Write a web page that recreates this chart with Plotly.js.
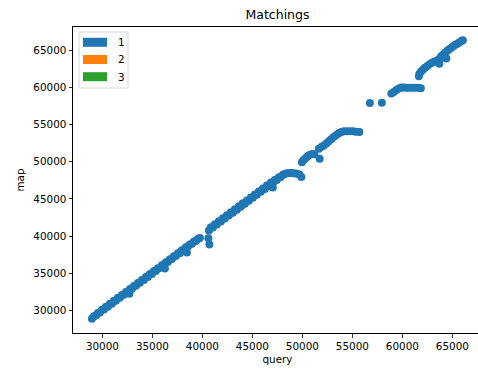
<!DOCTYPE html>
<html>
<head>
<meta charset="utf-8">
<script src="https://cdn.plot.ly/plotly-3.0.1.min.js"></script>
<style>
html, body { margin: 0; padding: 0; overflow: hidden; background: #fff; }
#chart { width: 484px; height: 374px; }
</style>
</head>
<body>
<div id="chart"></div>
<script>
// ---- data ----
const query = [
  28950, 29150, 29350, 29550, 29750, 29950, 30150, 30350, 30550, 30750,
  30950, 31150, 31350, 31550, 31750, 31950, 32150, 32350, 32550, 32750,
  32950, 33150, 33350, 33550, 33750, 33950, 34150, 34350, 34550, 34750,
  34950, 35150, 35350, 35550, 35750, 35950, 36150, 36350, 36550, 36750,
  36950, 37150, 37350, 37550, 37750, 37950, 38150, 38350, 38550, 38750,
  38950, 39150, 39350, 39550, 39750,
  32700, 36250, 38450,
  40600, 40700,
  40650, 40850, 41050, 41250, 41450, 41650, 41850, 42050, 42250, 42450,
  42650, 42850, 43050, 43250, 43450, 43650, 43850, 44050, 44250, 44450,
  44650, 44850, 45050, 45250, 45450, 45650, 45850, 46050, 46250, 46450,
  46650, 46850, 47050, 47250, 47450, 47650, 47850, 48050, 48250, 48450,
  47050,
  48700, 48950, 49200, 49450, 49700, 49900,
  49950, 50100, 50300, 50500, 50700, 50950, 51200, 51730,
  51650, 51900, 52150, 52400, 52650, 52900, 53150, 53400, 53650, 53900,
  54150, 54450, 54750, 55050, 55350, 55700,
  56750, 57950,
  58900, 59150, 59400, 59650, 59900, 60150, 60400, 60700, 61000, 61300,
  61600, 61850,
  61650, 61700, 61850, 62050, 62250, 62500, 62750, 63000, 63250, 63500,
  63750, 63900, 64100, 64300, 64500, 64700, 64900, 65100, 65300, 65500,
  65700, 65900, 66050, 64400, 63700
];
const map = [
  28880, 29200, 29300, 29650, 29700, 30080, 30100, 30480, 30500, 30880,
  30900, 31280, 31300, 31680, 31700, 32080, 32100, 32480, 32500, 32880,
  32900, 33280, 33300, 33680, 33700, 34080, 34100, 34480, 34500, 34880,
  34900, 35280, 35300, 35680, 35700, 36080, 36100, 36480, 36500, 36880,
  36900, 37280, 37300, 37680, 37700, 38080, 38150, 38500, 38600, 38850,
  38950, 39250, 39350, 39600, 39750,
  32250, 35620, 37800,
  39700, 38850,
  40750, 41200, 41150, 41600, 41550, 42000, 41950, 42400, 42350, 42800,
  42750, 43200, 43150, 43600, 43550, 44000, 43950, 44400, 44350, 44800,
  44750, 45200, 45150, 45600, 45550, 46000, 45950, 46400, 46350, 46800,
  46750, 47200, 47150, 47550, 47550, 47900, 47950, 48250, 48350, 48450,
  46550,
  48500, 48500, 48450, 48400, 48300, 47950,
  49950, 50200, 50450, 50700, 50900, 51050, 51000, 50420,
  51750, 52000, 52200, 52450, 52750, 53050, 53350, 53600, 53850, 54000,
  54100, 54100, 54100, 54100, 54050, 54000,
  57900, 57950,
  59200, 59400, 59650, 59850, 60000, 60000, 59950, 59950, 59950, 59950,
  59950, 59900,
  61500, 61800, 62100, 62400, 62650, 62900, 63150, 63350, 63500, 63650,
  63900, 64200, 64450, 64700, 64950, 65150, 65350, 65550, 65750, 65900,
  66050, 66250, 66350, 63900, 63200
];
const legendLabels = ["1", "2", "3"];
const legendColors = ["#1f77b4", "#ff7f0e", "#2ca02c"];
const tickValues = [30000, 35000, 40000, 45000, 50000, 55000, 60000, 65000];

// ---- layout geometry (pixels) ----
const W = 484, H = 374;
const M = { l: 73, r: 2, t: 27, b: 41 };
const PW = W - M.l - M.r, PH = H - M.t - M.b;
const px = x => (x - M.l) / PW;          // pixel -> paper x
const py = y => 1 - (y - M.t) / PH;      // pixel -> paper y

const font = "DejaVu Sans, sans-serif";
const shapes = [];
const annotations = [];

// legend frame
shapes.push({
  type: "rect", xref: "paper", yref: "paper",
  x0: px(79), x1: px(128), y0: py(88), y1: py(32),
  line: { color: "#d6d6d6", width: 1 }, fillcolor: "rgba(255,255,255,0.8)"
});
const rowY = [42.3, 59.5, 76.7];
legendLabels.forEach((lab, i) => {
  shapes.push({
    type: "rect", xref: "paper", yref: "paper",
    x0: px(83), x1: px(107), y0: py(rowY[i] + 4.5), y1: py(rowY[i] - 4.5),
    line: { width: 0 }, fillcolor: legendColors[i]
  });
  annotations.push({
    xref: "paper", yref: "paper", x: px(115.5), y: py(rowY[i]),
    xanchor: "left", yanchor: "middle", showarrow: false,
    text: lab, font: { family: font, size: 10.4, color: "#000" }
  });
});

const trace = {
  type: "scatter", mode: "markers",
  x: query, y: map, name: "1", showlegend: false,
  marker: { color: "#1f77b4", size: 8, line: { width: 0 } },
  hoverinfo: "skip"
};

const axisCommon = {
  showgrid: false, zeroline: false, showline: true, mirror: true,
  linecolor: "#000", linewidth: 1,
  ticks: "outside", ticklen: 3.5, tickwidth: 0.8, tickcolor: "#000",
  tickvals: tickValues, ticktext: tickValues.map(String),
  tickfont: { family: font, size: 10.4, color: "#000" },
  automargin: false
};

const layout = {
  width: W, height: H, margin: M,
  paper_bgcolor: "#fff", plot_bgcolor: "#fff",
  showlegend: false,
  title: {
    text: "Matchings", x: px((M.l + 482) / 2), xref: "paper", xanchor: "center",
    y: 1 - 15 / H, yref: "container", yanchor: "middle",
    font: { family: font, size: 12.5, color: "#000" }
  },
  xaxis: Object.assign({}, axisCommon, {
    range: [27057, 67967],
    title: { text: "query", standoff: 4, font: { family: font, size: 10.4, color: "#000" } }
  }),
  yaxis: Object.assign({}, axisCommon, {
    range: [26950, 68140],
    title: { text: "map", standoff: 6, font: { family: font, size: 10.4, color: "#000" } }
  }),
  shapes: shapes,
  annotations: annotations
};

Plotly.newPlot("chart", [trace], layout, { staticPlot: true, displayModeBar: false });
</script>
</body>
</html>
